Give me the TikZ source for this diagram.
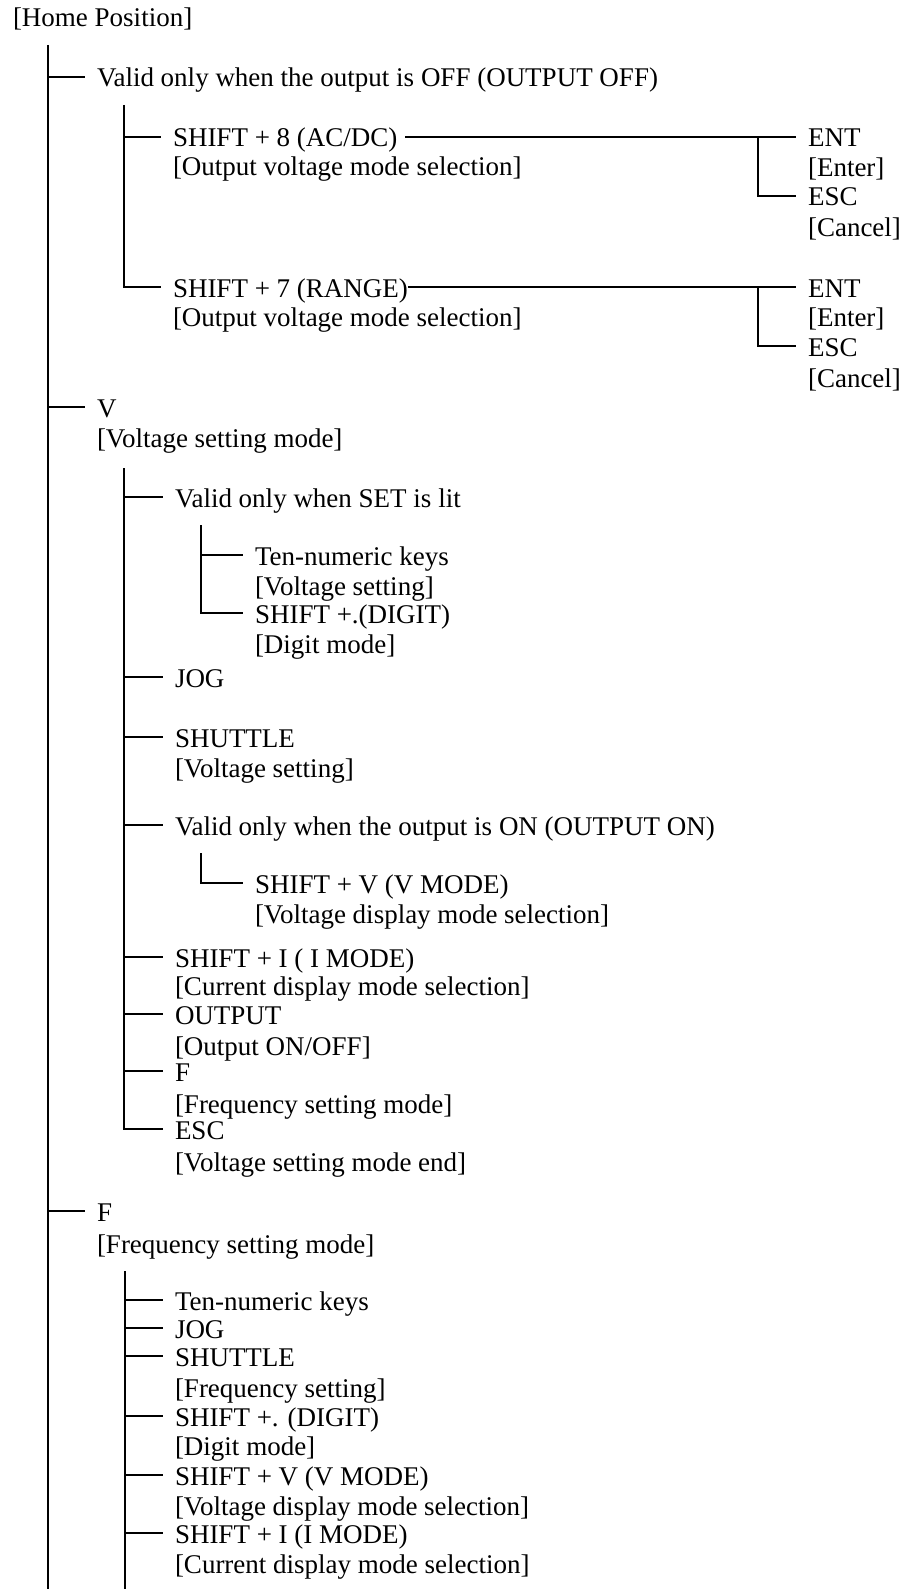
\documentclass[tikz,border=0pt]{standalone}
\usepackage{fontspec}
\setmainfont{Liberation Serif}
\begin{document}
\begin{tikzpicture}[x=1pt,y=-1pt,
  lbl/.style={anchor=base west, inner sep=0pt, outer xsep=12pt, outer ysep=0pt,
              text height=20pt, text depth=0pt, font=\fontsize{27}{30}\selectfont},
  conn/.style={line width=1.1pt, black}]
\useasboundingbox (0,0) rectangle (904,1589);

% root
\node[lbl] (home) at (1,27) {[Home Position]};
\coordinate (t0) at (48,45);
\coordinate (b0) at (48,1589);

% OUTPUT OFF branch
\node[lbl] (off) at (85,87) {Valid only when the output is OFF (OUTPUT OFF)};
\coordinate (t1) at (124,105);
\node[lbl] (s8)  at (161,147) {SHIFT + 8 (AC/DC)};
\node[lbl] (s8d) at (161,176) {[Output voltage mode selection]};
\node[lbl] (s7)  at (161,297) {SHIFT + 7 (RANGE)};
\node[lbl] (s7d) at (161,326) {[Output voltage mode selection]};
\coordinate (r1) at (758,0);
\node[lbl] (ent1)  at (796,147) {ENT};
\node[lbl] (ent1d) at (796,177) {[Enter]};
\node[lbl] (esc1)  at (796,206) {ESC};
\node[lbl] (esc1d) at (796,237) {[Cancel]};
\node[lbl] (ent2)  at (796,297) {ENT};
\node[lbl] (ent2d) at (796,326) {[Enter]};
\node[lbl] (esc2)  at (796,356) {ESC};
\node[lbl] (esc2d) at (796,387) {[Cancel]};

% V branch
\node[lbl] (v)  at (85,417) {V};
\node[lbl] (vd) at (85,447) {[Voltage setting mode]};
\coordinate (t2) at (124,468);
\node[lbl] (set) at (163,507) {Valid only when SET is lit};
\coordinate (t3) at (201,525);
\node[lbl] (ten1)  at (243,565) {Ten-numeric keys};
\node[lbl] (ten1d) at (243,595) {[Voltage setting]};
\node[lbl] (dig1)  at (243,623) {SHIFT +.(DIGIT)};
\node[lbl] (dig1d) at (243,653) {[Digit mode]};
\node[lbl] (jog1)  at (163,687) {JOG};
\node[lbl] (shu1)  at (163,747) {SHUTTLE};
\node[lbl] (shu1d) at (163,777) {[Voltage setting]};
\node[lbl] (on)    at (163,835) {Valid only when the output is ON (OUTPUT ON)};
\coordinate (t4) at (201,853);
\node[lbl] (vm1)  at (243,893) {SHIFT + V (V MODE)};
\node[lbl] (vm1d) at (243,923) {[Voltage display mode selection]};
\node[lbl] (im1)  at (163,967) {SHIFT + I ( I MODE)};
\node[lbl] (im1d) at (163,995) {[Current display mode selection]};
\node[lbl] (out)  at (163,1024) {OUTPUT};
\node[lbl] (outd) at (163,1055) {[Output ON/OFF]};
\node[lbl] (f1)   at (163,1081) {F};
\node[lbl] (f1d)  at (163,1113) {[Frequency setting mode]};
\node[lbl] (esc3) at (163,1139) {ESC};
\node[lbl] (esc3d) at (163,1171) {[Voltage setting mode end]};

% F branch
\node[lbl] (f2)  at (85,1221) {F};
\node[lbl] (f2d) at (85,1253) {[Frequency setting mode]};
\coordinate (t5) at (125,1271);
\coordinate (b5) at (125,1589);
\node[lbl] (ten2)  at (163,1310) {Ten-numeric keys};
\node[lbl] (jog2)  at (163,1338) {JOG};
\node[lbl] (shu2)  at (163,1366) {SHUTTLE};
\node[lbl] (shu2d) at (163,1397) {[Frequency setting]};
\node[lbl] (dig2)  at (163,1426) {SHIFT +. (DIGIT)};
\node[lbl] (dig2d) at (163,1455) {[Digit mode]};
\node[lbl] (vm2)   at (163,1485) {SHIFT + V (V MODE)};
\node[lbl] (vm2d)  at (163,1515) {[Voltage display mode selection]};
\node[lbl] (im2)   at (163,1543) {SHIFT + I (I MODE)};
\node[lbl] (im2d)  at (163,1573) {[Current display mode selection]};

% connectors
\draw[conn] (t0) -- (b0);
\foreach \n in {off,v,f2} \draw[conn] (t0 |- \n.west) -- (\n.west);

\draw[conn] (t1) |- (s7.west);
\draw[conn] (t1 |- s8.west) -- (s8.west);
\draw[conn] ([xshift=-4pt]s8.east) -- (ent1.west);
\draw[conn] ([xshift=-12pt]s7.east) -- (ent2.west);
\draw[conn] (ent1.west -| r1) |- (esc1.west);
\draw[conn] (ent2.west -| r1) |- (esc2.west);

\draw[conn] (t2) |- (esc3.west);
\foreach \n in {set,jog1,shu1,on,im1,out,f1} \draw[conn] (t2 |- \n.west) -- (\n.west);
\draw[conn] (t3) |- (dig1.west);
\draw[conn] (t3 |- ten1.west) -- (ten1.west);
\draw[conn] (t4) |- (vm1.west);

\draw[conn] (t5) -- (b5);
\foreach \n in {ten2,jog2,shu2,dig2,vm2,im2} \draw[conn] (t5 |- \n.west) -- (\n.west);
\end{tikzpicture}
\end{document}
